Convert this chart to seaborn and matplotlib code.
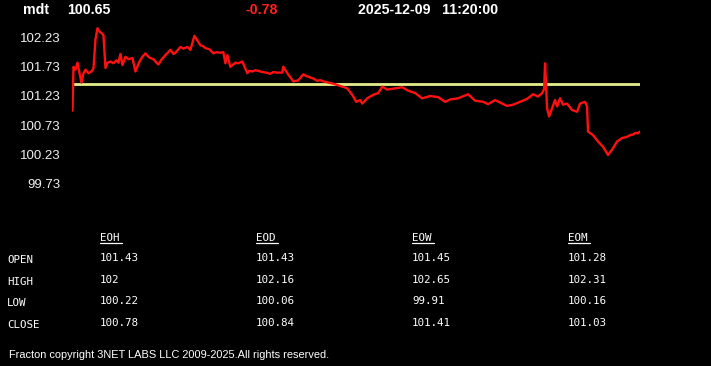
import matplotlib
matplotlib.use("Agg")
import matplotlib.pyplot as plt
import seaborn as sns
import pandas as pd
from matplotlib.lines import Line2D

# ---------------- data ----------------
symbol = "mdt"
last_price = "100.65"
change = "-0.78"
timestamp = "2025-12-09   11:20:00"
prev_close = 101.43

t_idx = [0, 1, 3, 5, 7, 9, 11, 13, 16, 19, 21, 23, 25, 27, 29, 31, 33, 35, 38, 41,
         44, 46, 48, 50, 53, 56, 60, 63, 67, 70, 73, 76, 78, 81, 84, 86, 89, 93, 96, 98,
         101, 103, 106, 108, 111, 115, 118, 122, 125, 128, 131, 133, 137, 141, 144, 148,
         151, 153, 155, 158, 161, 163, 166, 170, 172, 175, 177, 180, 183, 186, 190, 194,
         198, 201, 205, 210, 211, 215, 218, 221, 224, 226, 228, 231, 234, 236, 239, 241,
         245, 248, 251, 256, 261, 265, 268, 272, 275, 280, 284, 288, 290, 295, 301, 306,
         310, 315, 323, 330, 336, 343, 350, 358, 366, 373, 378, 386, 396, 403, 411, 416,
         423, 430, 435, 441, 448, 455, 461, 466, 470, 472, 473, 475, 477, 480, 483, 485,
         488, 491, 495, 500, 505, 508, 513, 515, 516, 521, 526, 531, 536, 540, 545, 550,
         555, 558, 561, 564, 566, 568]
price = [100.98, 101.73, 101.68, 101.80, 101.62, 101.46, 101.62, 101.68, 101.62, 101.65,
         101.70, 102.20, 102.39, 102.33, 102.31, 102.27, 101.71, 101.80, 101.82, 101.79,
         101.84, 101.80, 101.95, 101.76, 101.90, 101.86, 101.88, 101.65, 101.82, 101.90,
         101.96, 101.90, 101.88, 101.86, 101.80, 101.77, 101.85, 101.93, 101.98, 102.02,
         101.95, 101.97, 102.03, 102.07, 102.04, 102.07, 102.02, 102.26, 102.18, 102.10,
         102.08, 102.05, 102.03, 101.96, 101.98, 101.97, 101.98, 101.79, 101.93, 101.73,
         101.77, 101.80, 101.79, 101.82, 101.74, 101.62, 101.66, 101.65, 101.67, 101.66,
         101.64, 101.63, 101.61, 101.64, 101.63, 101.63, 101.73, 101.62, 101.55, 101.48,
         101.49, 101.50, 101.54, 101.60, 101.57, 101.56, 101.54, 101.53, 101.49, 101.50,
         101.48, 101.46, 101.44, 101.42, 101.40, 101.38, 101.36, 101.25, 101.13, 101.16,
         101.10, 101.19, 101.25, 101.28, 101.39, 101.34, 101.36, 101.38, 101.32, 101.28,
         101.19, 101.23, 101.21, 101.13, 101.17, 101.19, 101.26, 101.15, 101.13, 101.09,
         101.16, 101.10, 101.06, 101.08, 101.13, 101.18, 101.26, 101.22, 101.28, 101.35,
         101.79, 101.02, 100.88, 101.02, 101.16, 101.05, 101.19, 101.08, 101.10, 100.99,
         100.96, 101.10, 101.13, 101.05, 100.62, 100.56, 100.45, 100.36, 100.22, 100.31,
         100.45, 100.51, 100.53, 100.56, 100.57, 100.60, 100.59, 100.62]

y_ticks = [99.73, 100.23, 100.73, 101.23, 101.73, 102.23]

table_cols = ["EOH", "EOD", "EOW", "EOM"]
table_rows = ["OPEN", "HIGH", "LOW", "CLOSE"]
eoh = ["101.43", "102", "100.22", "100.78"]
eod = ["101.43", "102.16", "100.06", "100.84"]
eow = ["101.45", "102.65", "99.91", "101.41"]
eom = ["101.28", "102.31", "100.16", "101.03"]
footer = "Fracton copyright 3NET LABS LLC 2009-2025.All rights reserved."

# ---------------- figure ----------------
W, H = 711, 366
sns.set_style("dark")
plt.rcParams["font.family"] = ["Liberation Sans", "DejaVu Sans"]
fig = plt.figure(figsize=(W / 100, H / 100), dpi=100, facecolor="black")

def fx(x):
    return x / W

def fy(y):
    return 1 - y / H

ax = fig.add_axes([fx(72), fy(200), fx(640) - fx(72), (200 - 20) / H])
ax.set_facecolor("black")

df = pd.DataFrame({"t": t_idx, "price": price})
ax.axhline(prev_close, color="#e6ee8c", lw=2.0, zorder=1)
sns.lineplot(data=df, x="t", y="price", color="#ff1010", lw=1.7, ax=ax, zorder=2)

ax.set_xlim(-0.5, 568)
ax.set_ylim(99.449, 102.531)
ax.set_yticks(y_ticks)
ax.set_yticklabels([f"{v:.2f}" for v in y_ticks])
ax.tick_params(axis="y", length=0, pad=8, labelsize=9.5, colors="#f0f0f0")
ax.set_xticks([])
ax.set_xlabel("")
ax.set_ylabel("")
ax.grid(False)
for s in ax.spines.values():
    s.set_visible(False)

# header
hdr = dict(fontsize=10.2, fontweight="bold", va="center", ha="left")
fig.text(fx(23), fy(9.5), symbol, color="white", **hdr)
fig.text(fx(67), fy(9.5), last_price, color="white", **hdr)
fig.text(fx(246), fy(9.5), change, color="#ff2020", **hdr)
fig.text(fx(358), fy(9.5), timestamp, color="white", **hdr)

# table
mono = dict(family="DejaVu Sans Mono", fontsize=7.8, color="white", va="center", ha="left")
col_x = [100, 256, 412, 568]
row_y = [259, 281, 302, 324]
cols = [eoh, eod, eow, eom]
for cx, name, vals in zip(col_x, table_cols, cols):
    fig.text(fx(cx), fy(238), name, **mono)
    fig.add_artist(Line2D([fx(cx), fx(cx + 22)], [fy(243), fy(243)],
                          color="white", lw=0.9, transform=fig.transFigure))
    for ry, v in zip(row_y, vals):
        fig.text(fx(cx), fy(ry - 1), v, **mono)
for ry, name in zip(row_y, table_rows):
    fig.text(fx(7), fy(ry + 1), name, **mono)

fig.text(fx(9), fy(355), footer, color="white", fontsize=7.9, va="center", ha="left")

fig.savefig("out.png", dpi=100, facecolor="black")
